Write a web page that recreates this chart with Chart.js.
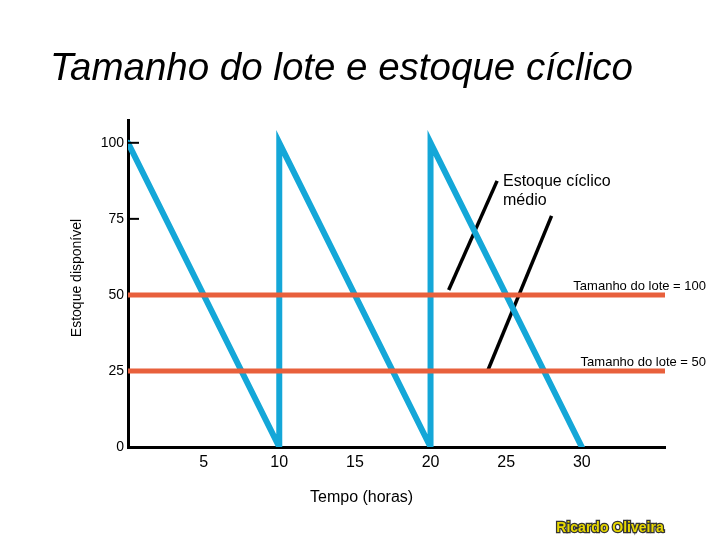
<!DOCTYPE html>
<html><head><meta charset="utf-8">
<script src="https://cdn.jsdelivr.net/npm/chart.js@4"></script>
<style>html,body{margin:0;background:#fff}#w{width:720px;height:540px}</style>
</head><body><div id="w"><canvas id="c"></canvas></div>
<script>
const sawX = [0, 10, 10, 20, 20, 30];
const sawY = [100, 0, 100, 0, 100, 0];
const lot100 = 50, lot50 = 25;
const xTicks = [5, 10, 15, 20, 25, 30];
const yTicks = [0, 25, 50, 75, 100];
const pointer1 = [[21.2, 51.6], [24.4, 87.5]];
const pointer2 = [[23.8, 25.3], [28.0, 76]];
const XMAX = 35.5, YMAX = 107.5;

const texts = {
  id: 'texts',
  afterDraw(ch) {
    const c = ch.ctx, xs = ch.scales.x, ys = ch.scales.y;
    c.save();
    c.strokeStyle = '#000'; c.lineWidth = 2;
    [100, 75].forEach(v => { const y = ys.getPixelForValue(v); c.beginPath(); c.moveTo(128, y); c.lineTo(139, y); c.stroke(); });
    c.fillStyle = '#000';
    c.font = 'italic 38.5px Arial, "Liberation Sans"'; c.textBaseline = 'alphabetic';
    c.fillText('Tamanho do lote e estoque cíclico', 50, 80);
    c.font = '16px "Liberation Sans", Arial';
    c.fillText('Estoque cíclico', 503, 186);
    c.fillText('médio', 503, 205);
    c.fillText('Tempo (horas)', 310, 502);
    c.font = '13px "Liberation Sans", Arial'; c.textAlign = 'right';
    c.fillText('Tamanho do lote = 100', 706, 290);
    c.fillText('Tamanho do lote = 50', 706, 366);
    c.save(); c.translate(81, 278); c.rotate(-Math.PI/2); c.textAlign = 'center';
    c.font = '14px "Liberation Sans", Arial'; c.fillText('Estoque disponível', 0, 0); c.restore();
    c.textAlign = 'center'; c.font = 'bold 14px "Liberation Sans", Arial';
    c.strokeStyle = '#333'; c.lineWidth = 2.5; c.strokeText('Ricardo Oliveira', 610, 532);
    c.fillStyle = '#e8d800'; c.fillText('Ricardo Oliveira', 610, 532);
    c.restore();
  }
};

const pts = (xa, ya) => xa.map((x, i) => ({x, y: ya[i]}));
new Chart(document.getElementById('c'), {
  type: 'scatter',
  data: { datasets: [
    { data: [{x:0,y:lot100},{x:XMAX,y:lot100}], showLine: true, borderColor: '#e8603c', borderWidth: 5, pointRadius: 0 },
    { data: [{x:0,y:lot50},{x:XMAX,y:lot50}], showLine: true, borderColor: '#e8603c', borderWidth: 5, pointRadius: 0 },
    { data: pts(sawX, sawY), showLine: true, borderColor: '#14a7d8', borderWidth: 6, pointRadius: 0, borderCapStyle: 'round' },
    { data: pointer1.map(p => ({x:p[0], y:p[1]})), showLine: true, borderColor: '#000', borderWidth: 3.5, pointRadius: 0 },
    { data: pointer2.map(p => ({x:p[0], y:p[1]})), showLine: true, borderColor: '#000', borderWidth: 3.5, pointRadius: 0 }
  ]},
  options: {
    responsive: true, maintainAspectRatio: false, animation: false,
    layout: { padding: { top: 120, right: 55, left: 0, bottom: 0 } },
    plugins: { legend: { display: false }, tooltip: { enabled: false } },
    scales: {
      x: { type: 'linear', min: 0, max: XMAX,
        afterFit: s => { s.height = 93; },
        afterBuildTicks: s => { s.ticks = xTicks.map(v => ({value: v})); },
        grid: { display: false, drawTicks: false },
        border: { color: '#000', width: 3 },
        ticks: { color: '#000', padding: 6, font: { size: 16, family: '"Liberation Sans", Arial' } } },
      y: { min: 0, max: YMAX,
        afterFit: s => { s.width = 128; },
        afterBuildTicks: s => { s.ticks = yTicks.map(v => ({value: v})); },
        grid: { display: false, drawTicks: false },
        border: { color: '#000', width: 3 },
        ticks: { color: '#000', padding: 4, font: { size: 14, family: '"Liberation Sans", Arial' } } }
    }
  },
  plugins: [texts]
});
</script></body></html>
